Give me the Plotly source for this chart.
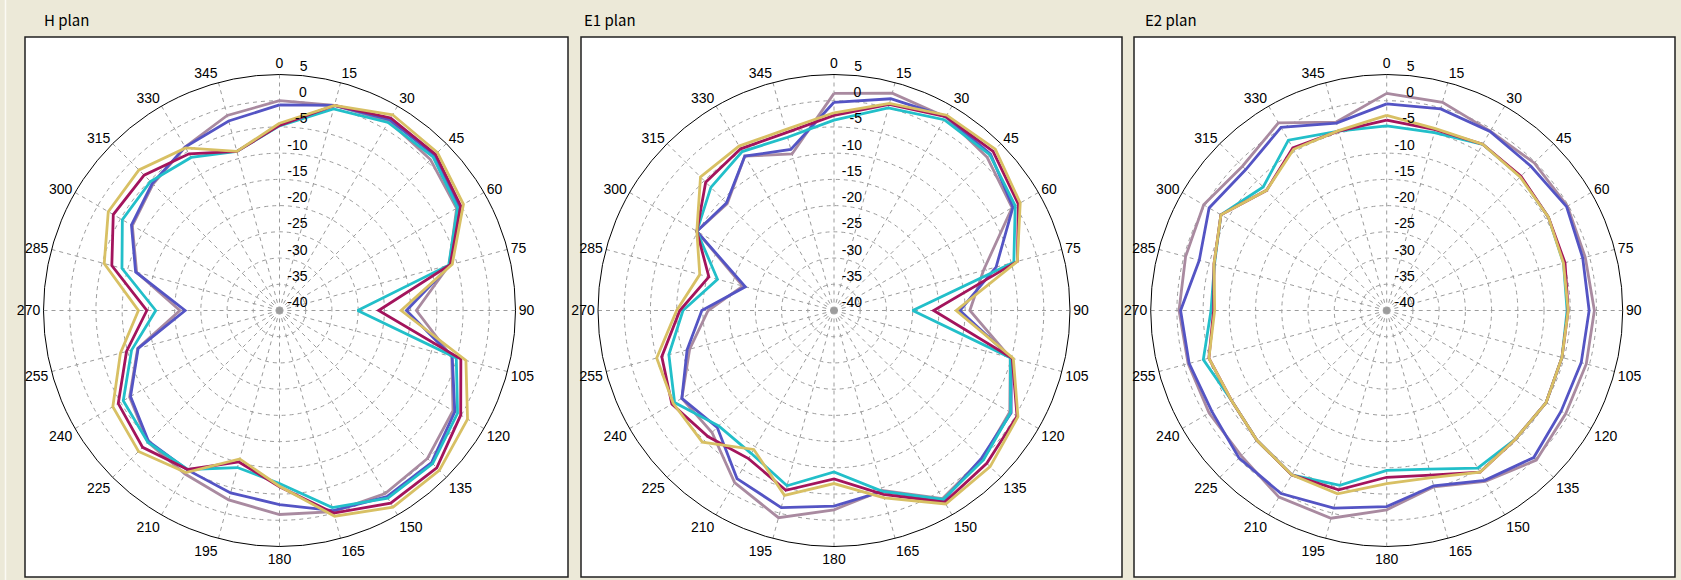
import plotly.graph_objects as go

# Measurement angles (degrees, clockwise from top)
angles = list(range(0, 360, 15))

# ---- H plane patterns (dB) ----
h_mauve = [0.0, 0.5, 1.7, 0.7, -1.0, -6.5, -13.9, -6.0, -1.8, -0.1, 0.3, -0.3,
           -1.1, -2.6, -4.0, -4.5, -7.0, -12.0, -21.0, -11.8, -7.6, -5.9, -4.0, -1.5]
h_blue = [-0.8, 0.5, 2.0, 1.8, -0.5, -6.3, -15.8, -5.9, -1.4, 1.0, 1.0, -0.5,
          -3.0, -4.0, -4.9, -4.7, -7.2, -12.1, -22.0, -11.6, -7.4, -5.7, -4.0, -2.6]
h_crimson = [-4.7, 0.5, 2.4, 2.1, -0.1, -6.3, -21.1, -4.2, -0.1, 2.4, 2.4, 0.0,
             -6.4, -10.1, -5.0, -3.1, -4.5, -9.8, -14.7, -6.9, -3.4, -3.5, -5.5, -8.6]
h_gold = [-4.3, 0.5, 3.1, 2.6, 0.5, -5.9, -16.8, -3.2, 1.4, 3.1, 3.3, 0.6,
          -6.5, -10.7, -4.3, -2.0, -3.3, -8.6, -13.1, -5.4, -2.3, -2.1, -4.2, -8.6]
h_cyan = [-4.8, -0.2, 1.4, 1.4, -0.8, -6.6, -25.1, -5.1, -0.8, 1.3, 1.3, -1.1,
          -7.0, -9.0, -5.0, -4.5, -5.6, -10.8, -16.4, -8.9, -5.4, -5.2, -6.3, -8.6]

# ---- E1 plane patterns (dB) ----
e1_mauve = [1.4, 2.9, 2.6, 1.3, -0.8, -10.5, -14.1, -5.2, -1.3, 0.0, 1.4, -4.5,
            -2.0, 0.9, -2.1, -7.1, -6.5, -11.5, -16.0, -22.0, -9.8, -11.2, -6.0, -9.1]
e1_blue = [-0.3, 1.8, 2.7, 2.2, -0.6, -8.0, -16.0, -5.0, -1.0, -0.2, 1.8, -4.3,
           -2.7, -1.1, -3.0, -8.5, -6.5, -11.0, -14.8, -22.5, -9.8, -11.0, -6.0, -8.2]
e1_crimson = [-2.8, 0.7, 2.7, 2.9, 0.6, -3.8, -21.0, -4.8, 0.3, 1.2, 2.2, -3.7,
              -7.9, -4.5, -7.4, -6.0, -4.3, -6.0, -10.6, -15.3, -9.8, -5.4, -4.4, -4.9]
e1_gold = [-2.3, 0.9, 3.0, 3.5, 1.0, -3.8, -16.7, -4.6, 0.5, 2.1, 2.6, -3.0,
           -7.0, -3.5, -9.4, -4.5, -4.6, -5.0, -10.0, -13.5, -9.8, -4.0, -3.8, -4.3]
e1_cyan = [-3.7, 0.0, 2.0, 2.0, -0.1, -4.5, -25.0, -5.2, -1.1, 0.3, 1.6, -4.3,
           -9.2, -5.4, -8.5, -8.9, -4.9, -7.4, -11.2, -17.0, -9.8, -6.8, -5.0, -5.8]

# ---- E2 plane patterns (dB) ----
e2_mauve = [1.4, 1.1, -0.5, -0.2, -0.2, -0.8, -0.4, -0.6, -0.6, 0.35, -2.4, -5.2,
            -2.0, 1.0, 1.1, -0.8, -0.9, -0.8, -0.4, -0.3, 0.3, -1.1, 1.3, -2.8]
e2_blue = [-0.6, -0.2, -0.6, -1.1, -0.4, -1.3, -1.4, -1.6, -1.6, -0.35, -2.6, -5.4,
           -2.6, -1.0, 0.3, -0.2, -1.5, -1.0, -0.7, -3.0, -0.9, -2.0, 0.3, -3.0]
e2_crimson = [-3.7, -4.3, -3.4, -3.8, -4.4, -4.8, -5.4, -5.4, -4.9, -5.3, -4.4, -7.5,
              -8.2, -4.6, -3.8, -5.0, -5.8, -4.9, -7.0, -5.9, -3.5, -7.6, -4.2, -4.6]
e2_gold = [-2.8, -4.1, -3.4, -4.0, -4.4, -5.1, -5.4, -5.4, -4.9, -5.3, -4.4, -7.0,
           -7.0, -3.8, -3.8, -5.0, -5.8, -4.9, -7.2, -5.9, -3.5, -7.6, -4.5, -4.5]
e2_cyan = [-4.8, -4.9, -3.4, -3.9, -4.4, -5.1, -5.6, -5.4, -4.9, -5.3, -5.3, -8.7,
           -9.5, -5.5, -3.8, -5.0, -5.8, -3.8, -6.5, -6.0, -3.5, -6.7, -2.5, -4.6]

panel_titles = ["H plan", "E1 plan", "E2 plan"]
panel_series = [
    [h_mauve, h_blue, h_cyan, h_crimson, h_gold],
    [e1_mauve, e1_blue, e1_cyan, e1_crimson, e1_gold],
    [e2_mauve, e2_blue, e2_cyan, e2_crimson, e2_gold],
]
series_colors = ["#a98aa0", "#5454c4", "#22bfc9", "#a3145c", "#d8c064"]

radial_ticks = list(range(-40, 10, 5))

W, H = 1681, 580
BG = "#ece9d8"
FONT = "Liberation Sans, Arial, sans-serif"
GRID = "#9c9c9c"

FIG_SP = "\u2007"    # digit-wide space
PUNCT_SP = "\u2008"  # period-wide space


def level_label(v):
    """Right-align level labels by padding them on the left with fixed-width spaces."""
    s = str(v)
    if v == radial_ticks[-1]:
        pad = FIG_SP  # outermost label sits on a slightly rotated anchor
    elif v >= 0:
        pad = FIG_SP * 2 + PUNCT_SP
    elif v > -10:
        pad = FIG_SP * 2
    else:
        pad = FIG_SP
    return pad + s


# outermost level label is nudged clockwise so it clears the "0" angle label
label_theta = [0] * (len(radial_ticks) - 1) + [3]

# layout geometry (pixels)
centers_x = [279.5, 834.0, 1386.7]
center_y = 310.5
R = 236
box_x = [(25, 568), (581, 1122), (1134, 1675)]
box_y = (37, 577)
title_x = [42, 582, 1143]

fig = go.Figure()

for i, series in enumerate(panel_series):
    pid = "polar" if i == 0 else f"polar{i + 1}"
    for vals, col in zip(series, series_colors):
        fig.add_trace(go.Scatterpolar(
            r=vals + vals[:1], theta=angles + angles[:1],
            mode="lines", line=dict(color=col, width=2.8),
            subplot=pid, showlegend=False, hoverinfo="skip"))
    # pole marker
    fig.add_trace(go.Scatterpolar(
        r=[radial_ticks[0]], theta=[0], mode="markers",
        marker=dict(symbol="square", size=6, color="#9c9c9c"),
        subplot=pid, showlegend=False, hoverinfo="skip"))
    # level labels along the 0-degree spoke, written upright
    fig.add_trace(go.Scatterpolar(
        r=radial_ticks, theta=label_theta, mode="text",
        text=[level_label(v) for v in radial_ticks], textposition="top right",
        textfont=dict(family=FONT, size=14, color="black"),
        subplot=pid, showlegend=False, hoverinfo="skip", cliponaxis=False))

    cx = centers_x[i]
    polar = dict(
        domain=dict(x=[(cx - R) / W, (cx + R) / W],
                    y=[1 - (center_y + R) / H, 1 - (center_y - R) / H]),
        bgcolor="white",
        angularaxis=dict(
            rotation=90, direction="clockwise",
            tickmode="array", tickvals=angles, ticktext=[str(a) for a in angles],
            showline=True, linecolor="black", linewidth=1,
            gridcolor=GRID, griddash="4px,4px", gridwidth=1,
            ticks="", tickfont=dict(family=FONT, size=14, color="black"),
        ),
        radialaxis=dict(
            range=[-40, 5], tickmode="array", tickvals=radial_ticks,
            showticklabels=False, angle=90, showline=False, ticks="",
            gridcolor=GRID, griddash="4px,4px", gridwidth=1,
        ),
    )
    fig.layout[pid] = polar

    x0, x1 = box_x[i]
    fig.add_shape(type="rect", xref="paper", yref="paper",
                  x0=x0 / W, x1=x1 / W, y0=1 - box_y[1] / H, y1=1 - box_y[0] / H,
                  line=dict(color="#202020", width=1.5), fillcolor="white",
                  layer="below")
    fig.add_annotation(text=panel_titles[i], xref="paper", yref="paper",
                       x=title_x[i] / W, y=1 - 20 / H, xanchor="left",
                       yanchor="middle", showarrow=False,
                       font=dict(family="Noto Sans CJK KR, " + FONT, size=15,
                                 color="black"))

# thin window edge on the left
fig.add_shape(type="line", xref="paper", yref="paper",
              x0=5.5 / W, x1=5.5 / W, y0=0, y1=1,
              line=dict(color="#fbfaf4", width=1.5), layer="below")

fig.update_layout(
    width=W, height=H, paper_bgcolor=BG, plot_bgcolor=BG,
    margin=dict(l=0, r=0, t=0, b=0),
)

fig.write_html("out.html")
